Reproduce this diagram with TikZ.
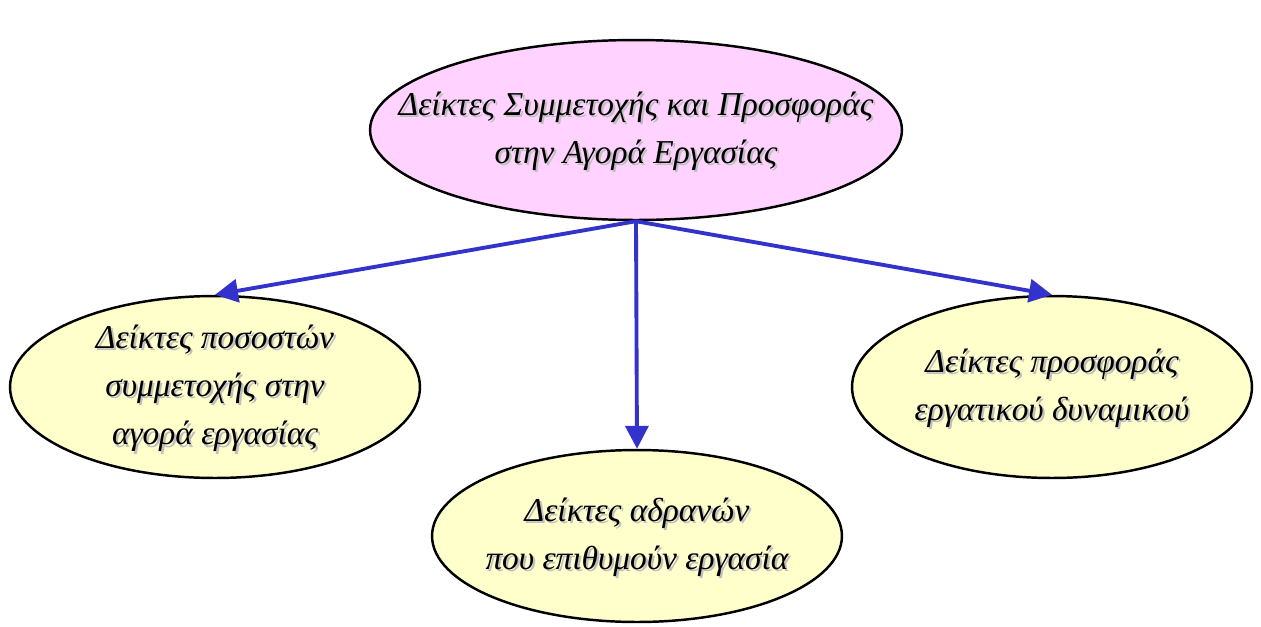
\documentclass[tikz,border=0pt]{standalone}
\usepackage{fontspec}
\setmainfont{Liberation Serif}
\usetikzlibrary{shapes.geometric,arrows.meta}
\definecolor{topfill}{HTML}{FFD2FF}
\definecolor{subfill}{HTML}{FFFFCC}
\definecolor{linkblue}{HTML}{3333CC}
% text with a light drop shadow
\newcommand{\shline}[1]{\makebox[0pt][l]{\hspace{1.2pt}\raisebox{-1.2pt}{\color{black!25}#1}}#1}
% lines set in a box of no size, so the ellipse keeps its own size
\newcommand{\ovaltext}[1]{\hbox to 0pt{\hss\vbox to 0pt{\vss\hbox{\begin{tabular}{@{}c@{}}#1\end{tabular}}\vss}\hss}}
\tikzset{
  idea/.style={ellipse, draw=black, line width=1.4pt, inner sep=0pt,
    font=\itshape\fontsize{19}{27.5}\selectfont},
  link/.style={draw=linkblue, line width=2.2pt,
    -{Triangle[length=0.46cm,width=0.46cm]}}
}
\begin{document}
\begin{tikzpicture}[x=0.02cm, y=-0.02cm]
    \useasboundingbox (0, 0) rectangle (1261, 626);
    \node[idea, fill=topfill, minimum width=10.64cm, minimum height=3.6cm] (main) at(636, 130)
      {\ovaltext{\shline{Δείκτες Συμμετοχής και Προσφοράς}\\\shline{στην Αγορά Εργασίας}}};
    \node[idea, fill=subfill, minimum width=8.2cm, minimum height=3.64cm] (part) at(215, 387)
      {\ovaltext{\shline{Δείκτες ποσοστών}\\\shline{συμμετοχής στην}\\\shline{αγορά εργασίας}}};
    \node[idea, fill=subfill, minimum width=8.2cm, minimum height=3.44cm] (idle) at(637, 536)
      {\ovaltext{\shline{Δείκτες αδρανών}\\\shline{που επιθυμούν εργασία}}};
    \node[idea, fill=subfill, minimum width=8.0cm, minimum height=3.64cm] (supply) at(1052, 387)
      {\ovaltext{\shline{Δείκτες προσφοράς}\\\shline{εργατικού δυναμικού}}};
    \draw[link] (main.south) -- (part.north);
    \draw[link] (main.south) -- (idle.north);
    \draw[link] (main.south) -- (supply.north);
\end{tikzpicture}
\end{document}
